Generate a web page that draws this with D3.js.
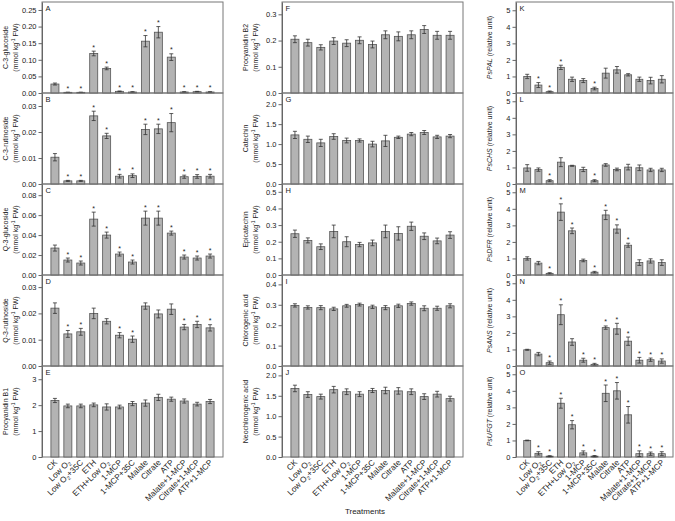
<!DOCTYPE html>
<html>
<head>
<meta charset="UTF-8">
<title>Treatments</title>
<script src="https://cdn.jsdelivr.net/npm/d3@7/dist/d3.min.js"></script>
<style>
  body { margin: 0; background: #fff; }
  svg { font-family: "Liberation Sans", Arial, sans-serif; }
  .axis text { font-size: 7.5px; fill: #222; }
  .axis path, .axis line { stroke: #666; }
  .frame { fill: none; stroke: #777; }
  .bar { fill: #b3b3b3; stroke: #555; stroke-width: 0.8; }
  .err { stroke: #333; stroke-width: 0.8; }
  .ylab { font-size: 7px; fill: #222; }
  .letter { font-size: 7.5px; fill: #222; }
  .xlab { font-size: 8.2px; fill: #222; }
  .star { font-size: 7px; fill: #222; }
</style>
</head>
<body>
<div id="chart"></div>
<script>
var treatments = ["CK", "Low O2", "Low O2+35C", "ETH", "ETH+Low O2", "1-MCP", "1-MCP+35C",
  "Malate", "Citrate", "ATP", "Malate+1-MCP", "Citrate+1-MCP", "ATP+1-MCP"];

// column 1
var c3gluMean = [0.027, 0.002, 0.002, 0.119, 0.074, 0.005, 0.003, 0.156, 0.183, 0.108, 0.003, 0.004, 0.003];
var c3gluErr  = [0.003, 0.0005, 0.0005, 0.007, 0.004, 0.001, 0.001, 0.017, 0.017, 0.010, 0.001, 0.001, 0.001];
var c3rutMean = [0.0103, 0.0012, 0.0012, 0.0262, 0.0185, 0.0030, 0.0032, 0.0210, 0.0212, 0.0236, 0.0028, 0.0029, 0.0030];
var c3rutErr  = [0.0014, 0.0002, 0.0002, 0.0018, 0.0010, 0.0007, 0.0007, 0.0020, 0.0018, 0.0035, 0.0006, 0.0007, 0.0007];
var q3gluMean = [0.027, 0.015, 0.012, 0.056, 0.040, 0.021, 0.013, 0.057, 0.057, 0.042, 0.018, 0.017, 0.019];
var q3gluErr  = [0.003, 0.002, 0.002, 0.007, 0.003, 0.002, 0.002, 0.007, 0.007, 0.002, 0.002, 0.002, 0.002];
var q3rutMean = [0.0220, 0.0122, 0.0130, 0.0200, 0.0170, 0.0117, 0.0102, 0.0228, 0.0198, 0.0216, 0.0148, 0.0158, 0.0145];
var q3rutErr  = [0.0020, 0.0013, 0.0013, 0.0020, 0.0010, 0.0010, 0.0012, 0.0012, 0.0015, 0.0020, 0.0010, 0.0012, 0.0012];
var pb1Mean = [2.18, 1.97, 1.97, 2.01, 1.93, 1.93, 2.06, 2.08, 2.30, 2.23, 2.16, 2.04, 2.14];
var pb1Err  = [0.08, 0.07, 0.07, 0.07, 0.12, 0.07, 0.08, 0.12, 0.12, 0.08, 0.08, 0.07, 0.08];

// column 2
var pb2Mean = [0.205, 0.192, 0.174, 0.198, 0.190, 0.201, 0.185, 0.222, 0.216, 0.222, 0.242, 0.220, 0.220];
var pb2Err  = [0.013, 0.013, 0.010, 0.013, 0.013, 0.013, 0.013, 0.015, 0.017, 0.015, 0.015, 0.015, 0.015];
var catMean = [1.23, 1.12, 1.03, 1.19, 1.09, 1.09, 1.00, 1.08, 1.17, 1.25, 1.29, 1.18, 1.20];
var catErr  = [0.09, 0.08, 0.09, 0.07, 0.06, 0.04, 0.07, 0.14, 0.03, 0.04, 0.05, 0.04, 0.04];
var epiMean = [0.248, 0.208, 0.170, 0.262, 0.200, 0.183, 0.193, 0.262, 0.250, 0.293, 0.233, 0.205, 0.240];
var epiErr  = [0.022, 0.015, 0.017, 0.038, 0.030, 0.013, 0.017, 0.038, 0.040, 0.025, 0.020, 0.017, 0.020];
var chlMean = [0.297, 0.287, 0.286, 0.280, 0.295, 0.301, 0.290, 0.286, 0.295, 0.306, 0.283, 0.283, 0.295];
var chlErr  = [0.008, 0.008, 0.010, 0.008, 0.007, 0.007, 0.008, 0.010, 0.008, 0.008, 0.012, 0.010, 0.010];
var neoMean = [1.68, 1.53, 1.48, 1.65, 1.60, 1.54, 1.63, 1.63, 1.62, 1.60, 1.48, 1.54, 1.43];
var neoErr  = [0.08, 0.07, 0.06, 0.08, 0.07, 0.06, 0.05, 0.08, 0.08, 0.07, 0.07, 0.07, 0.06];

// column 3 (relative expression)
var palMean  = [1.00, 0.48, 0.08, 1.55, 0.83, 0.75, 0.27, 1.20, 1.40, 1.10, 0.83, 0.75, 0.83];
var palErr   = [0.13, 0.15, 0.04, 0.13, 0.13, 0.12, 0.08, 0.30, 0.20, 0.07, 0.13, 0.20, 0.22];
var chsMean  = [0.97, 0.87, 0.20, 1.32, 1.10, 0.88, 0.20, 1.15, 0.88, 1.02, 0.98, 0.85, 0.85];
var chsErr   = [0.20, 0.10, 0.06, 0.27, 0.03, 0.13, 0.06, 0.08, 0.08, 0.17, 0.17, 0.10, 0.10];
var dfrMean  = [1.00, 0.72, 0.10, 3.80, 2.67, 0.88, 0.17, 3.63, 2.78, 1.80, 0.75, 0.85, 0.75];
var dfrErr   = [0.10, 0.10, 0.04, 0.50, 0.17, 0.08, 0.05, 0.28, 0.25, 0.12, 0.17, 0.13, 0.17];
var ansMean  = [0.98, 0.72, 0.20, 3.10, 1.45, 0.35, 0.10, 2.32, 2.25, 1.50, 0.35, 0.38, 0.30];
var ansErr   = [0.03, 0.10, 0.10, 0.60, 0.20, 0.12, 0.06, 0.10, 0.33, 0.25, 0.17, 0.10, 0.13];
var ufgtMean = [1.00, 0.22, 0.05, 3.25, 1.95, 0.25, 0.05, 3.85, 4.00, 2.55, 0.20, 0.20, 0.20];
var ufgtErr  = [0.02, 0.10, 0.03, 0.30, 0.25, 0.12, 0.04, 0.50, 0.50, 0.50, 0.17, 0.10, 0.12];

// significant (index of treatment) -> star
var allButCK = [1,2,3,4,5,6,7,8,9,10,11,12];
var q3rutSig = [1,2,5,6,10,11,12];
var palSig = [1,2,3,6];
var chsSig = [2,6];
var dfrSig = [2,3,4,6,7,8,9];
var ansSig = [2,3,5,6,7,8,9,10,11,12];

// tick values
var ticksA = [0, 0.05, 0.10, 0.15, 0.20, 0.25];
var ticks003 = [0, 0.01, 0.02, 0.03];
var ticksC = [0, 0.02, 0.04, 0.06, 0.08];
var ticksE = [0, 1, 2, 3];
var ticksF = [0, 0.1, 0.2, 0.3];
var ticks2 = [0, 0.5, 1.0, 1.5, 2.0];
var ticksH = [0, 0.1, 0.2, 0.3, 0.4, 0.5];
var ticksI = [0, 0.1, 0.2, 0.3, 0.4];
var ticks5 = [0, 1, 2, 3, 4, 5];

var w = 675, h = 521;
var top0 = 2, panelH = 91;
var cols = [{x0: 42, x1: 223}, {x0: 282, x1: 463}, {x0: 516, x1: 673}];

var panels = [
  {col: 0, row: 0, L: "A", name: "C-3-glucoside", mean: c3gluMean, err: c3gluErr, sig: allButCK, max: 0.274, ticks: ticksA, fmt: ".2f"},
  {col: 0, row: 1, L: "B", name: "C-3-rutinoside", mean: c3rutMean, err: c3rutErr, sig: allButCK, max: 0.035, ticks: ticks003, fmt: ".2f"},
  {col: 0, row: 2, L: "C", name: "Q-3-glucoside", mean: q3gluMean, err: q3gluErr, sig: allButCK, max: 0.0912, ticks: ticksC, fmt: ".2f"},
  {col: 0, row: 3, L: "D", name: "Q-3-rutinoside", mean: q3rutMean, err: q3rutErr, sig: q3rutSig, max: 0.0346, ticks: ticks003, fmt: ".2f"},
  {col: 0, row: 4, L: "E", name: "Procyanidin B1", mean: pb1Mean, err: pb1Err, sig: [], max: 3.51, ticks: ticksE, fmt: "d"},
  {col: 1, row: 0, L: "F", name: "Procyanidin B2", mean: pb2Mean, err: pb2Err, sig: [], max: 0.347, ticks: ticksF, fmt: ".1f"},
  {col: 1, row: 1, L: "G", name: "Catechin", mean: catMean, err: catErr, sig: [], max: 2.28, ticks: ticks2, fmt: ".1f"},
  {col: 1, row: 2, L: "H", name: "Epicatechin", mean: epiMean, err: epiErr, sig: [], max: 0.547, ticks: ticksH, fmt: ".1f"},
  {col: 1, row: 3, L: "I", name: "Chlorogenic acid", mean: chlMean, err: chlErr, sig: [], max: 0.446, ticks: ticksI, fmt: ".1f"},
  {col: 1, row: 4, L: "J", name: "Neochlorogenic acid", mean: neoMean, err: neoErr, sig: [], max: 2.23, ticks: ticks2, fmt: ".1f"},
  {col: 2, row: 0, L: "K", gene: "PsPAL", mean: palMean, err: palErr, sig: palSig, max: 5.5, ticks: ticks5, fmt: "d"},
  {col: 2, row: 1, L: "L", gene: "PsCHS", mean: chsMean, err: chsErr, sig: chsSig, max: 5.5, ticks: ticks5, fmt: "d"},
  {col: 2, row: 2, L: "M", gene: "PsDFR", mean: dfrMean, err: dfrErr, sig: dfrSig, max: 5.5, ticks: ticks5, fmt: "d"},
  {col: 2, row: 3, L: "N", gene: "PsANS", mean: ansMean, err: ansErr, sig: ansSig, max: 5.5, ticks: ticks5, fmt: "d"},
  {col: 2, row: 4, L: "O", gene: "PsUFGT", mean: ufgtMean, err: ufgtErr, sig: allButCK, max: 5.5, ticks: ticks5, fmt: "d"}
];

var svg = d3.select("#chart").append("svg")
  .attr("width", w)
  .attr("height", h);

// write "O2" with a subscript 2
function labelO2(sel, txt) {
  var parts = txt.split("O2");
  parts.forEach(function(p, k) {
    if (p) sel.append("tspan").text(p);
    if (k < parts.length - 1) {
      sel.append("tspan").text("O");
      sel.append("tspan").attr("font-size", "5.5px").attr("dy", 2).text("2");
      if (parts[k + 1]) sel.append("tspan").attr("dy", -2).text(parts[k + 1]);
      parts[k + 1] = "";
    }
  });
}

panels.forEach(function(p) {
  var c = cols[p.col];
  var y0 = top0 + p.row * panelH, y1 = y0 + panelH;
  var x = d3.scalePoint().domain(treatments).range([c.x0, c.x1]).padding(1);
  var y = d3.scaleLinear().domain([0, p.max]).range([y1, y0]);
  var bw = x.step() * 0.62;
  var g = svg.append("g");

  g.append("rect").attr("class", "frame")
    .attr("x", c.x0).attr("y", y0)
    .attr("width", c.x1 - c.x0).attr("height", panelH);

  g.append("g").attr("class", "axis")
    .attr("transform", "translate(" + c.x0 + ",0)")
    .call(d3.axisLeft(y).tickValues(p.ticks).tickFormat(d3.format(p.fmt))
      .tickSize(3.5).tickSizeOuter(0).tickPadding(2));

  g.selectAll(".bar").data(p.mean).enter().append("rect")
    .attr("class", "bar")
    .attr("x", function(d, i) { return x(treatments[i]) - bw / 2; })
    .attr("y", function(d) { return y(d); })
    .attr("width", bw)
    .attr("height", function(d) { return y1 - y(d); });

  // error bars
  p.mean.forEach(function(m, i) {
    var cx = x(treatments[i]);
    var hi = y(m + p.err[i]), lo = y(m - p.err[i]);
    g.append("line").attr("class", "err").attr("x1", cx).attr("x2", cx).attr("y1", hi).attr("y2", lo);
    g.append("line").attr("class", "err").attr("x1", cx - 2).attr("x2", cx + 2).attr("y1", hi).attr("y2", hi);
    g.append("line").attr("class", "err").attr("x1", cx - 2).attr("x2", cx + 2).attr("y1", lo).attr("y2", lo);
  });

  g.selectAll(".star").data(p.sig).enter().append("text")
    .attr("class", "star")
    .attr("text-anchor", "middle")
    .attr("x", function(i) { return x(treatments[i]); })
    .attr("y", function(i) { return y(p.mean[i] + p.err[i]) - 1.5; })
    .text("*");

  g.append("text").attr("class", "letter")
    .attr("x", c.x0 + 3.5).attr("y", y0 + 8.5).text(p.L);

  // y labels
  var my = (y0 + y1) / 2;
  if (p.gene) {
    var t = g.append("text").attr("class", "ylab").attr("text-anchor", "middle")
      .attr("transform", "translate(" + (c.x0 - 24) + "," + my + ") rotate(-90)");
    t.append("tspan").attr("font-style", "italic").text(p.gene);
    t.append("tspan").text(" (relative unit)");
  } else {
    g.append("text").attr("class", "ylab").attr("text-anchor", "middle")
      .attr("transform", "translate(" + (c.x0 - 34) + "," + my + ") rotate(-90)")
      .text(p.name);
    var u = g.append("text").attr("class", "ylab").attr("text-anchor", "middle")
      .attr("transform", "translate(" + (c.x0 - 24) + "," + my + ") rotate(-90)");
    u.append("tspan").text("(mmol kg");
    u.append("tspan").attr("font-size", "5px").attr("dy", -3).text("-1");
    u.append("tspan").attr("dy", 3).text(" FW)");
  }

  // treatment names under the bottom row
  if (p.row === 4) {
    treatments.forEach(function(tr) {
      var lab = g.append("text").attr("class", "xlab")
        .attr("text-anchor", "end")
        .attr("transform", "translate(" + (x(tr) + 3) + "," + (y1 + 6) + ") rotate(-45)");
      labelO2(lab, tr);
    });
  }
});

svg.append("text")
  .attr("x", 365).attr("y", 514)
  .attr("text-anchor", "middle")
  .style("font-size", "8px").style("fill", "#222")
  .text("Treatments");
</script>
</body>
</html>
